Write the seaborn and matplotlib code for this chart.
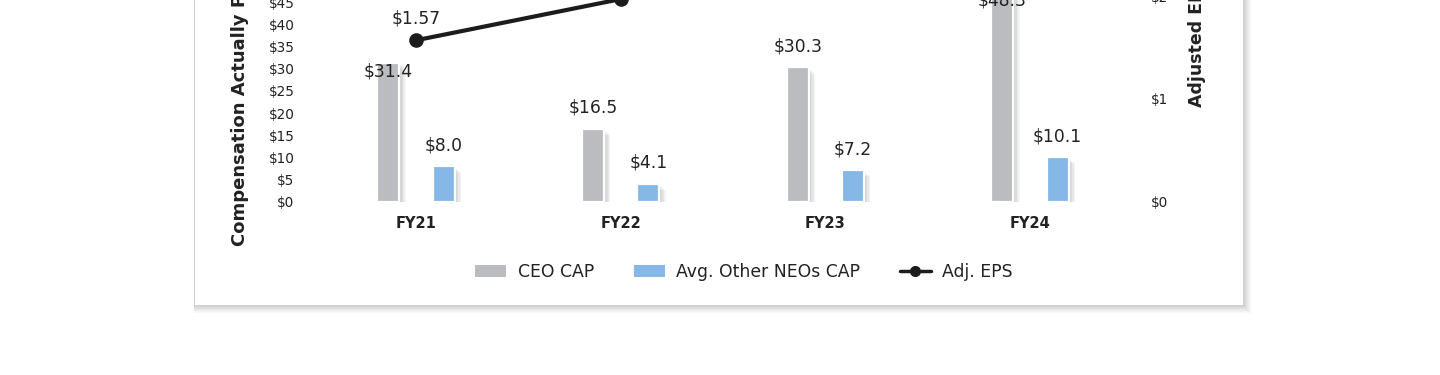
import numpy as np
import pandas as pd
import matplotlib
matplotlib.use("Agg")
import matplotlib.pyplot as plt
import seaborn as sns
from matplotlib.patches import Rectangle, Patch
from matplotlib.lines import Line2D
import matplotlib.patheffects as pe

# ---------------- data ----------------
years = ["FY21", "FY22", "FY23", "FY24"]
ceo_cap = [31.4, 16.5, 30.3, 48.3]
neo_cap = [8.0, 4.1, 7.2, 10.1]
adj_eps = [1.57, 1.97, 2.30, 2.62]
series_names = ["CEO CAP", "Avg. Other NEOs CAP"]
eps_name = "Adj. EPS"
left_ticks = [0, 5, 10, 15, 20, 25, 30, 35, 40, 45, 50]
right_ticks = [0, 1, 2]

# label offsets (points) relative to bar top
ceo_label_offsets = [-6.5, 15, 15, -9.5]
neo_label_offsets = [15, 15, 15, 15]

# ---------------- style ----------------
sns.set_style("white")
plt.rcParams['font.family'] = ['DejaVu Sans']
GREY = "#BBBCC0"
BLUE = "#85B8E6"
TXT = "#222222"

W, H = 1440, 375
fig = plt.figure(figsize=(W / 100, H / 100), dpi=100)
fig.patch.set_facecolor("white")


def fx(px):
    return px / W


def fy(py):
    return 1 - py / H


# panel with drop shadow
pl, pr, pb = 195, 1243, 305
for i in range(1, 9):
    fig.patches.append(Rectangle((fx(pl - 1.5), fy(pb + i)), fx(pr - pl + 1.5 + i), fy(-20) - fy(pb + i),
                                 transform=fig.transFigure, facecolor="black", alpha=0.022,
                                 edgecolor="none", zorder=-3))
fig.patches.append(Rectangle((fx(pl), fy(pb)), fx(pr - pl), fy(-20) - fy(pb),
                             transform=fig.transFigure, facecolor="white", edgecolor="none", zorder=-2))

# axes geometry
ax_l, ax_r, ax_b = 300, 1146, 202
px_per_unit = 4.44
ymax = 50
ax_h = ymax * px_per_unit
ax = fig.add_axes([fx(ax_l), fy(ax_b), fx(ax_r - ax_l), ax_h / H])
ax.patch.set_alpha(0)

df = pd.DataFrame({
    "Year": years * 2,
    "Series": [series_names[0]] * len(years) + [series_names[1]] * len(years),
    "Value": ceo_cap + neo_cap,
})
sns.barplot(data=df, x="Year", y="Value", hue="Series", hue_order=series_names,
            palette=[GREY, BLUE], width=0.54, gap=0.6, ax=ax, legend=False,
            edgecolor="white", linewidth=1.6, saturation=1, zorder=2)

shadow = [pe.SimplePatchShadow(offset=(o, -o), shadow_rgbFace="0.35", alpha=0.07)
          for o in (4.5, 3.5, 2.5, 1.5)] + [pe.Normal()]
for cont, offs in zip(ax.containers, [ceo_label_offsets, neo_label_offsets]):
    for bar, off in zip(cont, offs):
        bar.set_path_effects(shadow)
        ax.annotate(f"${bar.get_height():.1f}",
                    xy=(bar.get_x() + bar.get_width() / 2, bar.get_height()),
                    xytext=(0, off), textcoords="offset points",
                    ha="center", va="center", fontsize=12.3, color=TXT, zorder=5,
                    annotation_clip=False)

ax.set_ylim(0, ymax)
ax.set_yticks(left_ticks)
ax.set_yticklabels([f"${v}" for v in left_ticks])
ax.tick_params(axis="y", length=0, pad=4.0, labelsize=9.8, labelcolor=TXT)
ax.tick_params(axis="x", length=0, pad=10, labelsize=10.5, labelcolor=TXT)
for lab in ax.get_xticklabels():
    lab.set_fontweight("bold")
ax.set_xlabel("")
ax.set_ylabel("")
for s in ax.spines.values():
    s.set_visible(False)

# secondary axis for EPS
ax2 = ax.twinx()
ax2.patch.set_alpha(0)
sns.lineplot(x=np.arange(len(years)), y=adj_eps, ax=ax2, color="#1c1c1c", lw=3,
             marker="o", markersize=10.5, markeredgewidth=0, legend=False, zorder=6)
ax2.set_ylim(0, ax_h / 103.0)
ax2.set_yticks(right_ticks)
ax2.set_yticklabels([f"${v}" for v in right_ticks])
ax2.tick_params(axis="y", length=0, pad=3.6, labelsize=9.8, labelcolor=TXT)
ax2.set_ylabel("")
for s in ax2.spines.values():
    s.set_visible(False)
for i, v in enumerate(adj_eps):
    ax2.annotate(f"${v:.2f}", xy=(i, v), xytext=(0, 16), textcoords="offset points",
                 ha="center", va="center", fontsize=12.3, color=TXT, annotation_clip=False)

ax.set_xlim(-0.567, 3.567)

# axis titles
fig.text(fx(240), fy(246), "Compensation Actually Paid ($ in millions)", rotation=90,
         ha="center", va="bottom", fontsize=13, fontweight="bold", color=TXT)
fig.text(fx(1197), fy(107), "Adjusted EPS", rotation=90,
         ha="center", va="bottom", fontsize=12.5, fontweight="bold", color=TXT)

# legend
handles = [Patch(facecolor=GREY, edgecolor="none"),
           Patch(facecolor=BLUE, edgecolor="none"),
           Line2D([0], [0], color="#1c1c1c", lw=2.5, marker="o", markersize=7)]
fig.legend(handles, series_names + [eps_name], loc="center", bbox_to_anchor=(fx(744), fy(272)),
           ncol=3, frameon=False, fontsize=12.4, handlelength=1.8, handleheight=0.65,
           handletextpad=0.66, columnspacing=2.3, labelcolor=TXT)

fig.savefig("out.png", dpi=100)
